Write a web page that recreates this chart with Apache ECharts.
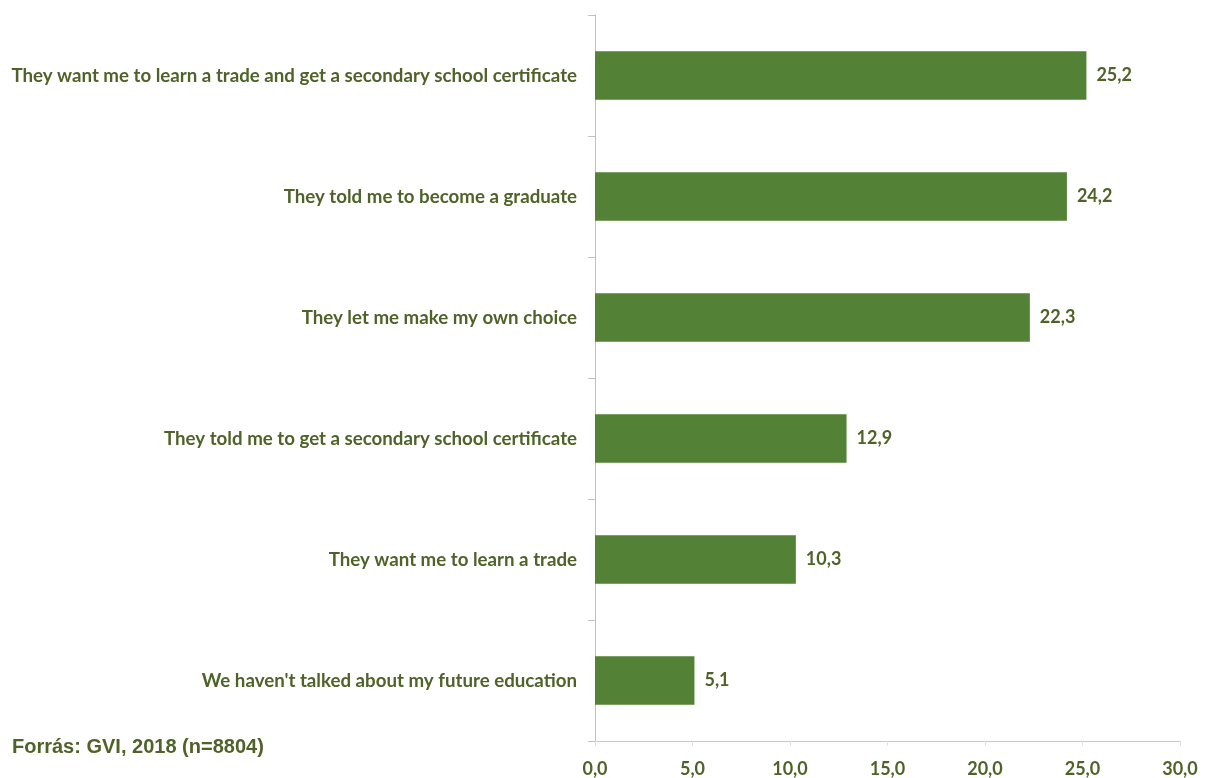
<!DOCTYPE html>
<html><head><meta charset="utf-8">
<script src="https://cdn.jsdelivr.net/npm/echarts@6/dist/echarts.min.js"></script>
<style>html,body{margin:0;padding:0;background:#fff}#c{width:1205px;height:778px}</style>
</head><body><div id="c"></div>
<script>
const categories = [
  "They want me to learn a trade and get a secondary school certificate",
  "They told me to become a graduate",
  "They let me make my own choice",
  "They told me to get a secondary school certificate",
  "They want me to learn a trade",
  "We haven't talked about my future education"
];
const values = [25.2, 24.2, 22.3, 12.9, 10.3, 5.1];
const xTicks = [0, 5, 10, 15, 20, 25, 30];
const sourceText = "Forrás: GVI, 2018 (n=8804)";

const textColor = '#4F6228';
const fmt = v => Number(v).toFixed(1).replace('.', ',');
const chart = echarts.init(document.getElementById('c'));
chart.setOption({
  animation: false,
  grid: {left: 595, right: 25, top: 15, bottom: 35},
  xAxis: {
    type: 'value', min: xTicks[0], max: xTicks[xTicks.length-1], interval: 5,
    splitLine: {show: false},
    axisLine: {show: true, lineStyle: {color: '#c8c8c8', width: 1}},
    axisTick: {show: true, length: 5, lineStyle: {color: '#e0e0e0'}},
    axisLabel: {color: textColor, fontFamily: 'Lato', fontWeight: 'bold', fontSize: 18, margin: 19, formatter: fmt}
  },
  yAxis: {
    type: 'category', data: categories, inverse: true,
    axisLine: {show: true, lineStyle: {color: '#c0c0c0', width: 1}},
    axisTick: {show: true, length: 7, lineStyle: {color: '#c0c0c0'}},
    axisLabel: {color: textColor, fontFamily: 'Lato', fontWeight: 'bold', fontSize: 18.7, margin: 18}
  },
  series: [{
    type: 'bar', data: values, barWidth: '40%',
    itemStyle: {color: '#538135'},
    label: {show: true, position: 'right', distance: 10, color: textColor, fontFamily: 'Lato', fontWeight: 'bold', fontSize: 18, formatter: p => fmt(p.value)}
  }],
  graphic: [{
    type: 'text', left: 12, top: 737,
    style: {text: sourceText, fill: textColor, font: 'bold 20px "Liberation Sans", Arial, sans-serif'}
  }]
});
</script></body></html>
